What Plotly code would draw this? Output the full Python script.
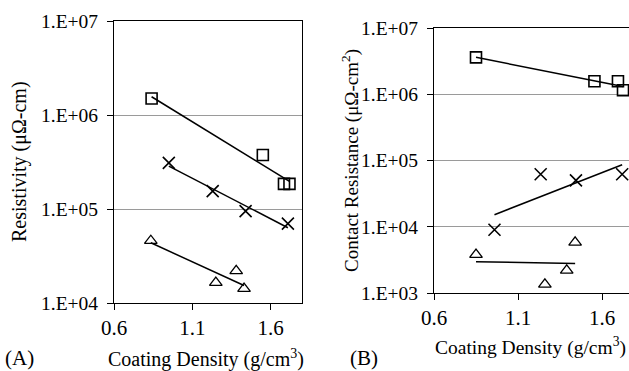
import numpy as np
import plotly.graph_objects as go

# ---- Panel (A): resistivity vs coating density ----
a_sq_density = [0.84, 1.55, 1.685, 1.72]
a_sq_resist = [1.5e6, 3.75e5, 1.85e5, 1.85e5]
a_x_density = [0.95, 1.23, 1.44, 1.71]
a_x_resist = [3.1e5, 1.55e5, 9.5e4, 7.0e4]
a_tri_density = [0.835, 1.25, 1.38, 1.43]
a_tri_resist = [4.6e4, 1.65e4, 2.2e4, 1.42e4]

# ---- Panel (B): contact resistance vs coating density ----
b_sq_density = [0.85, 1.555, 1.695, 1.725]
b_sq_resist = [3.6e6, 1.57e6, 1.57e6, 1.15e6]
b_x_density = [0.96, 1.235, 1.445, 1.72]
b_x_resist = [9.0e3, 6.2e4, 5.0e4, 6.2e4]
b_tri_density = [0.85, 1.26, 1.39, 1.44]
b_tri_resist = [3.8e3, 1.35e3, 2.2e3, 5.8e3]

x_ticks = [0.6, 1.1, 1.6]
x_tick_text = ["0.6", "1.1", "1.6"]
a_y_ticks = [1e4, 1e5, 1e6, 1e7]
a_y_tick_text = ["1.E+04", "1.E+05", "1.E+06", "1.E+07"]
b_y_ticks = [1e3, 1e4, 1e5, 1e6, 1e7]
b_y_tick_text = ["1.E+03", "1.E+04", "1.E+05", "1.E+06", "1.E+07"]

W, H = 629, 371
FONT = "Liberation Serif, Times New Roman, serif"
GAP = "\u00a0"  # a little breathing room between y labels and their ticks


def px(x):
    return x / W


def py(y):
    return 1 - y / H


def exp_fit(xs, ys):
    """Exponential trendline (linear fit of log10 y) across the data span."""
    k, b = np.polyfit(np.array(xs), np.log10(np.array(ys)), 1)
    xe = np.array([min(xs), max(xs)])
    return xe, 10 ** (k * xe + b)


fig = go.Figure()

marker_styles = {
    "sq": dict(symbol="square-open", size=11, color="black", line=dict(width=1.6, color="black")),
    "x": dict(symbol="x-thin-open", size=12, color="black", line=dict(width=1.6, color="black")),
    "tri": dict(symbol="triangle-up-open", size=11, color="black", line=dict(width=1.3, color="black")),
}

panels = [
    ("x", "y", [(a_sq_density, a_sq_resist, "sq"),
                (a_x_density, a_x_resist, "x"),
                (a_tri_density, a_tri_resist, "tri")]),
    ("x2", "y2", [(b_sq_density, b_sq_resist, "sq"),
                  (b_x_density, b_x_resist, "x"),
                  (b_tri_density, b_tri_resist, "tri")]),
]

for xa, ya, series in panels:
    for xs, ys, kind in series:
        lx, ly = exp_fit(xs, ys)
        fig.add_trace(go.Scatter(x=lx, y=ly, mode="lines", xaxis=xa, yaxis=ya,
                                 line=dict(color="black", width=1.5),
                                 showlegend=False, hoverinfo="skip"))
        fig.add_trace(go.Scatter(x=xs, y=ys, mode="markers", xaxis=xa, yaxis=ya,
                                 marker=marker_styles[kind], showlegend=False))

axis_common = dict(
    showline=True, linecolor="black", linewidth=1.3,
    ticks="outside", ticklen=6, tickcolor="black", tickwidth=1.2,
    zeroline=False, automargin=False,
)
X_TICK_FONT = dict(family=FONT, size=21, color="black")
Y_TICK_FONT = dict(family=FONT, size=19.5, color="black")

# Panel A axes
a_left, a_right, a_top, a_bottom = 114, 302, 21, 303
fig.update_layout(
    xaxis=dict(domain=[px(a_left), px(a_right)], range=[0.6, 1.8], anchor="y",
               tickvals=x_ticks, ticktext=x_tick_text, showgrid=False, mirror=True,
               tickfont=X_TICK_FONT, **axis_common),
    yaxis=dict(domain=[py(a_bottom), py(a_top)], type="log", range=[4, 7], anchor="x",
               tickvals=a_y_ticks, ticktext=[t + GAP for t in a_y_tick_text], showgrid=True,
               gridcolor="#9a9a9a", gridwidth=1, mirror=True,
               tickfont=Y_TICK_FONT, **axis_common),
)

# Panel B axes (frame runs past the right edge of the page)
b_left, b_top, b_bottom = 434, 28, 293
b_xmax = 0.6 + (W - b_left) / 168.0
fig.update_layout(
    xaxis2=dict(domain=[px(b_left), 1.0], range=[0.6, b_xmax], anchor="y2",
                tickvals=x_ticks, ticktext=x_tick_text, showgrid=False, mirror=True,
                tickfont=X_TICK_FONT, **axis_common),
    yaxis2=dict(domain=[py(b_bottom), py(b_top)], type="log", range=[3, 7], anchor="x2",
                tickvals=b_y_ticks, ticktext=[t + GAP for t in b_y_tick_text], showgrid=True,
                gridcolor="#9a9a9a", gridwidth=1, mirror=False,
                tickfont=Y_TICK_FONT, **axis_common),
)

annotations = [
    dict(text="Resistivity (\u03bc\u03a9-cm)", x=px(19), y=py(162), textangle=-90,
         font=dict(family=FONT, size=20, color="black")),
    dict(text="Coating Density (g/cm<sup>3</sup>)", x=px(206), y=py(358),
         font=dict(family=FONT, size=20, color="black")),
    dict(text="(A)", x=px(19), y=py(358), font=dict(family=FONT, size=21, color="black")),
    dict(text="Contact Resistance (\u03bc\u03a9-cm<sup>2</sup>)", x=px(350), y=py(160), textangle=-90,
         font=dict(family=FONT, size=19, color="black")),
    dict(text="Coating Density (g/cm<sup>3</sup>)", x=px(530), y=py(346),
         font=dict(family=FONT, size=19.5, color="black")),
    dict(text="(B)", x=px(364), y=py(358), font=dict(family=FONT, size=21, color="black")),
]
for a in annotations:
    a.update(xref="paper", yref="paper", showarrow=False, xanchor="center", yanchor="middle")

fig.update_layout(
    width=W, height=H,
    margin=dict(l=0, r=0, t=0, b=0),
    paper_bgcolor="white", plot_bgcolor="white",
    annotations=annotations,
    showlegend=False,
)

fig.write_html("out.html")
